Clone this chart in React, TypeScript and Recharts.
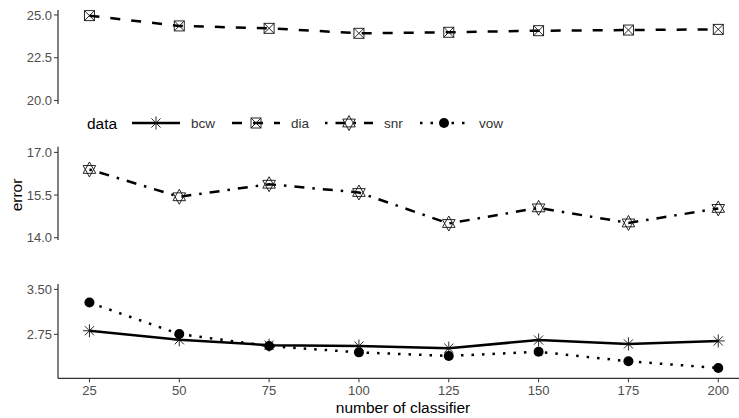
import React from "react";
import { LineChart, Line, XAxis, YAxis } from "recharts";

const classifiers = [25, 50, 75, 100, 125, 150, 175, 200];
const bcw = [2.81, 2.66, 2.57, 2.555, 2.52, 2.655, 2.59, 2.64];
const dia = [24.96, 24.36, 24.22, 23.93, 23.99, 24.08, 24.12, 24.16];
const snr = [16.4, 15.44, 15.88, 15.59, 14.5, 15.05, 14.52, 15.03];
const vow = [3.28, 2.755, 2.555, 2.45, 2.39, 2.46, 2.3, 2.19];

const xTicks = [25, 50, 75, 100, 125, 150, 175, 200];
const topTicks = [20, 22.5, 25];
const midTicks = [14, 15.5, 17];
const botTicks = [2.75, 3.5];

const rows = (vals: number[]) => classifiers.map((n, i) => ({ n, v: vals[i] }));

const FONT = "'Liberation Sans', Arial, sans-serif";
const W = 760;
const H = 418;

const Asterisk = ({ cx, cy }: { cx: number; cy: number }) => {
  const r = 6.5;
  const d = r * 0.7071;
  return (
    <g stroke="#111" strokeWidth={0.9} fill="none">
      <line x1={cx - r} y1={cy} x2={cx + r} y2={cy} />
      <line x1={cx} y1={cy - r} x2={cx} y2={cy + r} />
      <line x1={cx - d} y1={cy - d} x2={cx + d} y2={cy + d} />
      <line x1={cx - d} y1={cy + d} x2={cx + d} y2={cy - d} />
    </g>
  );
};

const BoxX = ({ cx, cy }: { cx: number; cy: number }) => {
  const h = 5;
  return (
    <g stroke="#111" strokeWidth={0.9} fill="none">
      <rect x={cx - h} y={cy - h} width={2 * h} height={2 * h} />
      <line x1={cx - h} y1={cy - h} x2={cx + h} y2={cy + h} />
      <line x1={cx - h} y1={cy + h} x2={cx + h} y2={cy - h} />
    </g>
  );
};

const StarDavid = ({ cx, cy }: { cx: number; cy: number }) => {
  const t = 7.5;
  const w = 6.3;
  const b = 3.9;
  return (
    <g stroke="#111" strokeWidth={0.9} fill="none">
      <polygon points={`${cx},${cy - t} ${cx + w},${cy + b} ${cx - w},${cy + b}`} />
      <polygon points={`${cx},${cy + t} ${cx + w},${cy - b} ${cx - w},${cy - b}`} />
    </g>
  );
};

const Dot = ({ cx, cy }: { cx: number; cy: number }) => (
  <circle cx={cx} cy={cy} r={5} fill="#000" stroke="none" />
);

const mk = (Comp: any) => (props: any) => {
  const { cx, cy, index } = props;
  if (cx == null || cy == null) return <g key={`e${index}`} />;
  return <Comp key={`m${index}`} cx={cx} cy={cy} />;
};

const tickStyle = { fill: "#4D4D4D", fontSize: 13, fontFamily: FONT };

type PanelProps = {
  series: { vals: number[]; dash?: string; shape: any; key: string }[];
  domain: [number, number];
  ticks: number[];
  fmt: (v: number) => string;
  top: number;
  bottom: number;
  showX: boolean;
};

const Panel = ({ series, domain, ticks, fmt, top, bottom, showX }: PanelProps) => {
  const xh = 30;
  const margin = {
    top,
    right: 10.3,
    left: 18,
    bottom: showX ? H - bottom - xh : H - bottom,
  };
  return (
    <div style={{ position: "absolute", left: 0, top: 0 }}>
      <LineChart width={W} height={H} margin={margin}>
        <XAxis
          dataKey="n"
          type="number"
          domain={[16.25, 208.75]}
          ticks={xTicks}
          allowDataOverflow
          hide={!showX}
          height={xh}
          axisLine={{ stroke: "#000", strokeWidth: 1 }}
          tickLine={{ stroke: "#333" }}
          tickSize={4}
          tickMargin={3}
          tick={tickStyle}
          interval={0}
        />
        <YAxis
          type="number"
          domain={domain}
          ticks={ticks}
          allowDataOverflow
          width={40}
          axisLine={{ stroke: "#000", strokeWidth: 1 }}
          tickLine={{ stroke: "#333" }}
          tickSize={4}
          tickMargin={2}
          tick={tickStyle}
          tickFormatter={fmt}
          interval={0}
        />
        {series.map((s) => (
          <Line
            key={s.key}
            data={rows(s.vals)}
            dataKey="v"
            type="linear"
            stroke="#000"
            strokeWidth={2.5}
            strokeDasharray={s.dash}
            dot={mk(s.shape)}
            activeDot={false}
            isAnimationActive={false}
          />
        ))}
      </LineChart>
    </div>
  );
};

const legendItems = [
  { label: "bcw", x: 132, dash: undefined as string | undefined, shape: Asterisk },
  { label: "dia", x: 232, dash: "10 11", shape: BoxX },
  { label: "snr", x: 325, dash: "2.5 8 10 8", shape: StarDavid },
  { label: "vow", x: 420, dash: "2.5 8", shape: Dot },
];

const Legend = () => (
  <svg
    width={739}
    height={40}
    style={{ position: "absolute", left: 0, top: 103 }}
  >
    <text x={87} y={25.5} fontSize={15.5} fontFamily={FONT} fill="#000">
      data
    </text>
    {legendItems.map((it) => {
      const S = it.shape;
      return (
        <g key={it.label}>
          <line
            x1={it.x}
            y1={20}
            x2={it.x + 48}
            y2={20}
            stroke="#000"
            strokeWidth={2.5}
            strokeDasharray={it.dash}
          />
          <S cx={it.x + 24} cy={20} />
          <text x={it.x + 59} y={25} fontSize={13.5} fontFamily={FONT} fill="#333">
            {it.label}
          </text>
        </g>
      );
    })}
  </svg>
);

export default function App() {
  return (
    <div
      style={{
        position: "absolute",
        left: 0,
        top: 0,
        width: 739,
        height: 418,
        overflow: "hidden",
        background: "#fff",
        fontFamily: FONT,
      }}
    >
      <Panel
        series={[{ vals: dia, dash: "10 11", shape: BoxX, key: "dia" }]}
        domain={[19.8, 25.29]}
        ticks={topTicks}
        fmt={(v) => v.toFixed(1)}
        top={10}
        bottom={104}
        showX={false}
      />
      <Panel
        series={[{ vals: snr, dash: "2.5 8 10 8", shape: StarDavid, key: "snr" }]}
        domain={[13.92, 17.2]}
        ticks={midTicks}
        fmt={(v) => v.toFixed(1)}
        top={146.7}
        bottom={240}
        showX={false}
      />
      <Panel
        series={[
          { vals: bcw, dash: undefined, shape: Asterisk, key: "bcw" },
          { vals: vow, dash: "2.5 8", shape: Dot, key: "vow" },
        ]}
        domain={[2.017, 3.59]}
        ticks={botTicks}
        fmt={(v) => v.toFixed(2)}
        top={284}
        bottom={378.3}
        showX={true}
      />
      <Legend />
      <svg width={739} height={418} style={{ position: "absolute", left: 0, top: 0, pointerEvents: "none" }}>
        <text
          x={0}
          y={0}
          transform="translate(22,195) rotate(-90)"
          textAnchor="middle"
          fontSize={15.5}
          fontFamily={FONT}
          fill="#000"
        >
          error
        </text>
        <text x={403} y={413} textAnchor="middle" fontSize={15.5} fontFamily={FONT} fill="#000">
          number of classifier
        </text>
      </svg>
    </div>
  );
}
